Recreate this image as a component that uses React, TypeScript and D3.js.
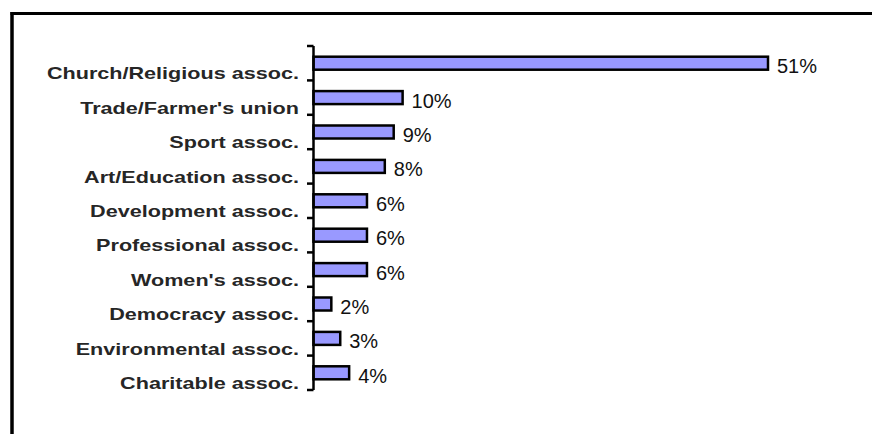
import React from "react";
import * as d3 from "d3";

const categories = [
  "Church/Religious assoc.",
  "Trade/Farmer's union",
  "Sport assoc.",
  "Art/Education assoc.",
  "Development assoc.",
  "Professional assoc.",
  "Women's assoc.",
  "Democracy assoc.",
  "Environmental assoc.",
  "Charitable assoc.",
];
const values = [51, 10, 9, 8, 6, 6, 6, 2, 3, 4];
const valueLabels = ["51%", "10%", "9%", "8%", "6%", "6%", "6%", "2%", "3%", "4%"];

const W = 872;
const H = 434;
const FONT = "'Liberation Sans', Arial, Helvetica, sans-serif";

export default function App() {
  const axisX = 313.5;
  const y = d3.scaleBand<string>().domain(categories).range([46, 390]).padding(0);
  const x = d3.scaleLinear().domain([0, 51]).range([axisX, 768]);
  const step = y.step();
  const barH = 13;
  const tickYs = categories.map((c) => y(c) as number).concat([390]);

  return (
    <svg
      width={W}
      height={H}
      viewBox={`0 0 ${W} ${H}`}
      style={{ position: "fixed", left: 0, top: 0, display: "block", background: "#fff" }}
    >
      <rect x={0} y={0} width={W} height={H} fill="#fff" />
      {/* frame (only top and left edges visible) */}
      <line x1={12} x2={12} y1={12} y2={H} stroke="#000" strokeWidth={3.5} />
      <line x1={10.5} x2={W} y1={13.5} y2={13.5} stroke="#000" strokeWidth={3} />
      <rect x={850} y={15.5} width={22} height={H} fill="#fff" />

      {/* bars */}
      {categories.map((c, i) => {
        const cy = (y(c) as number) + step / 2;
        return (
          <rect
            key={"b" + c}
            x={x(0)}
            y={cy - barH / 2}
            width={x(values[i]) - x(0)}
            height={barH}
            fill="#9999FF"
            stroke="#000"
            strokeWidth={2.5}
          />
        );
      })}

      {/* axis */}
      <line x1={axisX} x2={axisX} y1={46} y2={390} stroke="#000" strokeWidth={2.5} />
      {tickYs.map((ty, i) => (
        <line key={"t" + i} x1={307} x2={axisX} y1={ty} y2={ty} stroke="#000" strokeWidth={2.5} />
      ))}

      {/* category labels */}
      {categories.map((c) => {
        const base = (y(c) as number) + step - 1;
        return (
          <text
            key={"l" + c}
            transform={`translate(299,${base}) scale(1.31,1)`}
            textAnchor="end"
            fontFamily={FONT}
            fontWeight="bold"
            fontSize={16.5}
            fill="#262626"
          >
            {c}
          </text>
        );
      })}

      {/* value labels */}
      {categories.map((c, i) => {
        const cy = (y(c) as number) + step / 2;
        return (
          <text
            key={"v" + c}
            x={x(values[i]) + 9}
            y={cy + 10}
            fontFamily={FONT}
            fontSize={20}
            fill="#111"
          >
            {valueLabels[i]}
          </text>
        );
      })}
    </svg>
  );
}
